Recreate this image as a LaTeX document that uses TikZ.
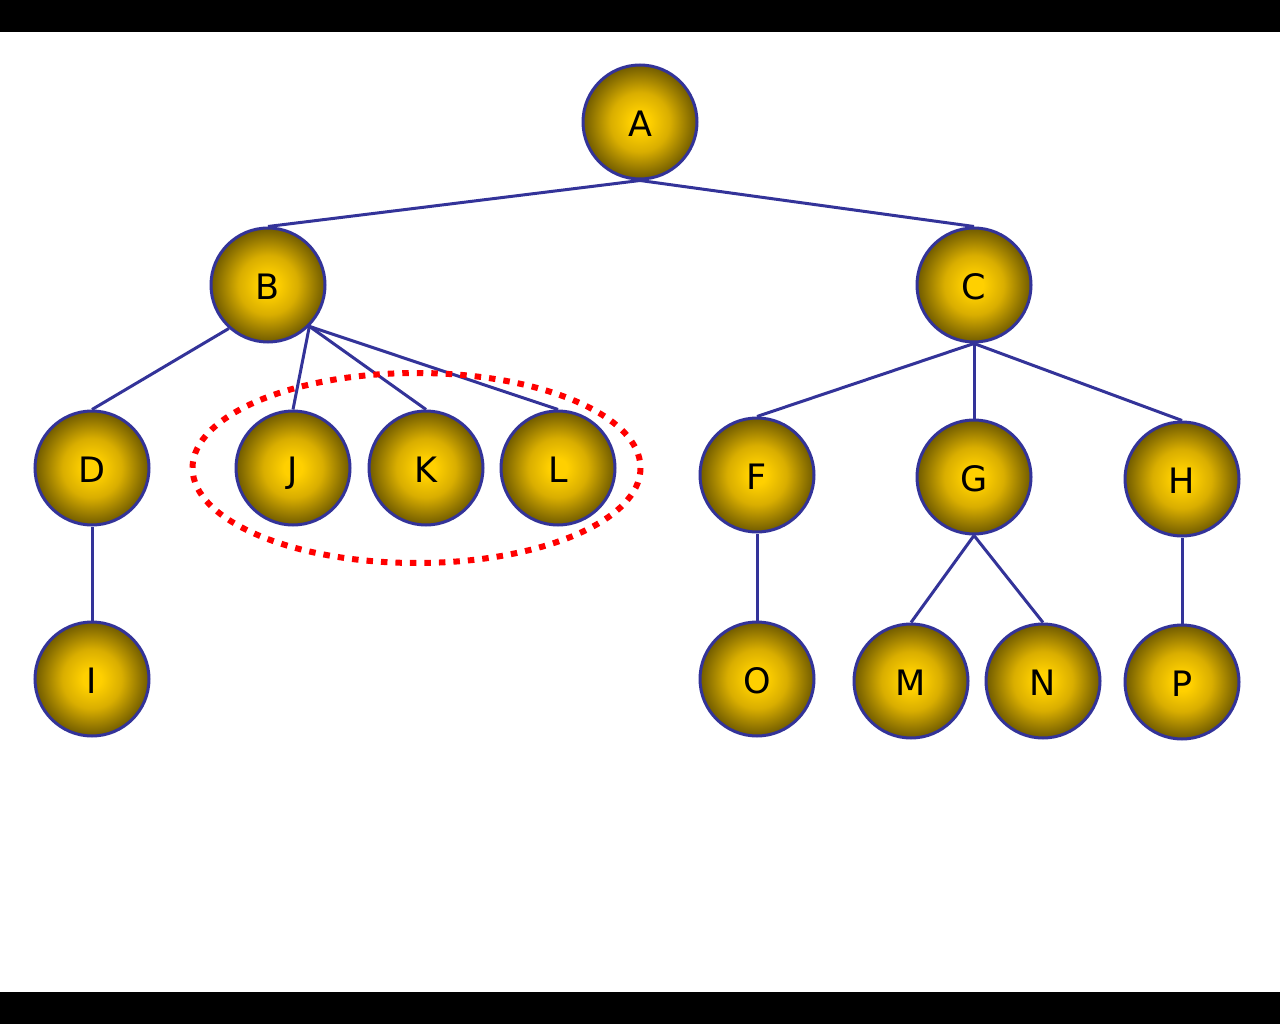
\documentclass[tikz,border=0pt]{standalone}
\usepackage{fontspec}
\setmainfont{DejaVu Sans}
\definecolor{ballin}{HTML}{FFD000}
\definecolor{ballmid}{HTML}{D9AE00}
\definecolor{ballout}{HTML}{705B00}
\definecolor{edgeblue}{HTML}{333399}
\definecolor{dotred}{HTML}{FF0000}
\pgfdeclareradialshading{goldball}{\pgfpoint{0bp}{0bp}}{color(0bp)=(ballin); color(4bp)=(ballin); color(13bp)=(ballmid); color(25bp)=(ballout); color(50bp)=(ballout)}
\tikzset{
  ball/.style={circle, minimum size=114pt, inner sep=0pt, shading=goldball, draw=edgeblue, line width=3pt, text=black, text height=29pt, text depth=0pt, font=\fontsize{35}{40}\selectfont},
  link/.style={draw=edgeblue, line width=3pt},
  group/.style={draw=dotred, line width=6pt, dash pattern=on 6.5pt off 8pt}
}
\begin{document}
\begin{tikzpicture}[x=1pt,y=-1pt]
\useasboundingbox (0,0) rectangle (1280,1024);
\fill[black] (0,0) rectangle (1280,32);
\fill[black] (0,992) rectangle (1280,1024);
\node[ball] (A) at (640,122) {A};
\node[ball] (B) at (268,285) {B};
\node[ball] (C) at (974,285) {C};
\node[ball] (D) at (92,468) {D};
\node[ball] (J) at (293,468) {J};
\node[ball] (K) at (426,468) {K};
\node[ball] (L) at (558,468) {L};
\node[ball] (F) at (757,475) {F};
\node[ball] (G) at (974,477) {G};
\node[ball] (H) at (1182,479) {H};
\node[ball] (I) at (92,679) {I};
\node[ball] (O) at (757,679) {O};
\node[ball] (M) at (911,681) {M};
\node[ball] (N) at (1043,681) {N};
\node[ball] (P) at (1182,682) {P};
\draw[link] (A.south) -- (B.north);
\draw[link] (A.south) -- (C.north);
\draw[link] (B.228) -- (D.north);
\draw[link] (B.south east) -- (J.north);
\draw[link] (B.south east) -- (K.north);
\draw[link] (B.south east) -- (L.north);
\draw[link] (C.south) -- (F.north);
\draw[link] (C.south) -- (G.north);
\draw[link] (C.south) -- (H.north);
\draw[link] (D.south) -- (I.north);
\draw[link] (F.south) -- (O.north);
\draw[link] (G.south) -- (M.north);
\draw[link] (G.south) -- (N.north);
\draw[link] (H.south) -- (P.north);
\draw[group] (416.5,468) ellipse [x radius=224, y radius=95];
\end{tikzpicture}
\end{document}
